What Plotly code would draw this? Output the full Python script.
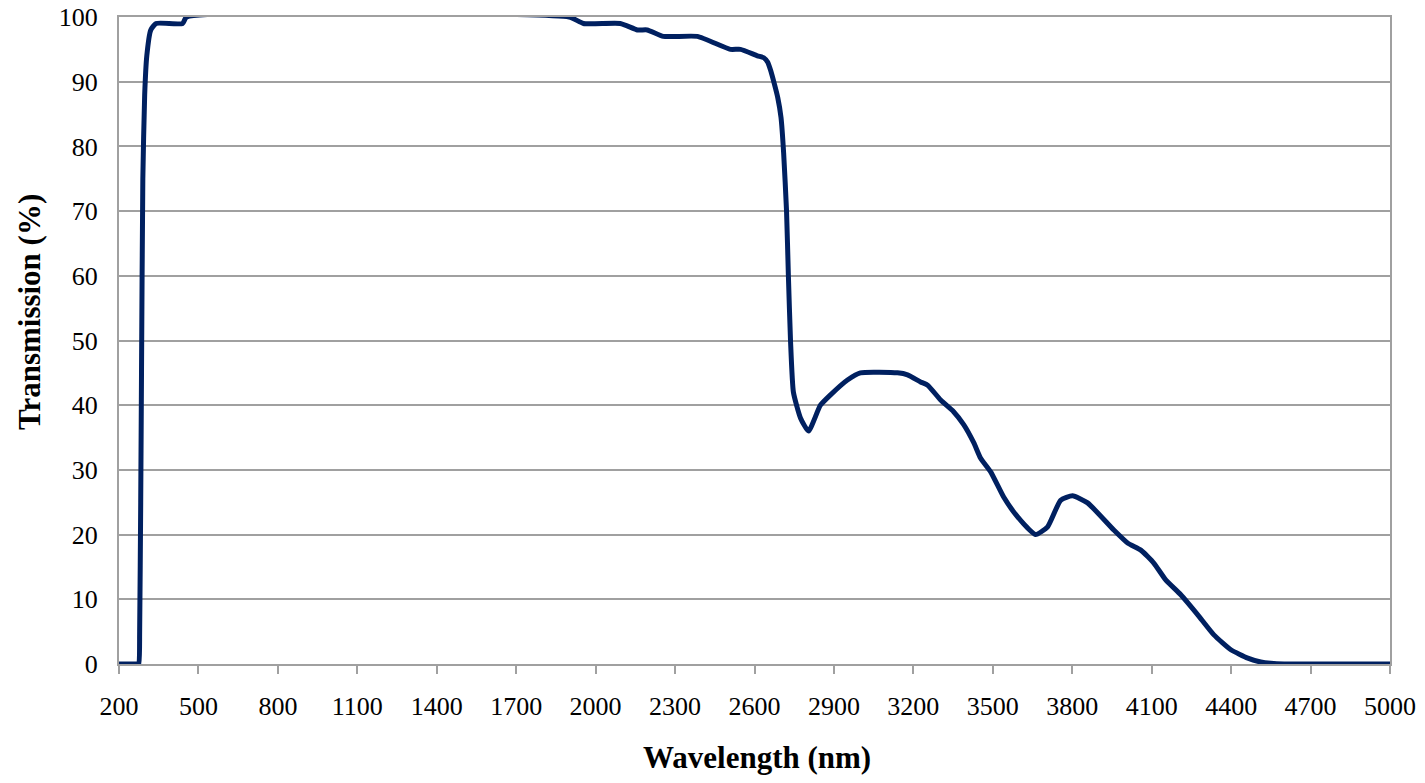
import plotly.graph_objects as go

wavelength = [200, 270, 275, 278, 282, 285, 290, 297, 305, 320, 340, 440, 455, 1900,
              1954, 2093, 2158, 2195, 2256, 2384, 2509, 2547, 2611, 2635, 2650, 2662, 2674, 2688, 2700,
              2710, 2721, 2728, 2736, 2747, 2774, 2804, 2849, 2887, 2951, 3000, 3140,
              3178, 3227, 3254, 3303, 3352, 3390, 3428, 3454, 3492, 3541, 3579, 3632,
              3662, 3707, 3756, 3801, 3858, 3957, 4009, 4059, 4108, 4153, 4210, 4274,
              4335, 4399, 4463, 4512, 4550, 4600, 5000]
transmission = [0, 0, 0, 5, 25, 45, 75, 88, 94, 98, 99, 99, 100, 100,
                99, 99, 98, 98, 97, 97, 95, 95, 94, 93.7, 93, 91.6, 89.8, 87.5, 84.5,
                79, 70, 60, 50, 42, 38, 36, 40, 41.6, 43.9, 45, 45,
                44.7, 43.6, 43.1, 40.8, 39, 37, 34.2, 31.8, 29.7, 25.8, 23.5, 21,
                20, 21.2, 25.3, 26, 24.9, 20.7, 18.7, 17.6, 15.6, 13, 10.7, 7.6,
                4.5, 2.2, 0.9, 0.3, 0.1, 0, 0]

x_ticks = list(range(200, 5001, 300))
y_ticks = list(range(0, 101, 10))

fig = go.Figure()
fig.add_trace(go.Scatter(
    x=wavelength, y=transmission, mode="lines",
    line=dict(color="#002060", width=5, shape="spline", smoothing=0.5),
    showlegend=False, hoverinfo="x+y", cliponaxis=False))

font = dict(family="Liberation Serif, Times New Roman, serif", color="black")

fig.update_layout(
    width=1409, height=767,
    margin=dict(l=111, r=27, t=9, b=111),
    paper_bgcolor="white", plot_bgcolor="white",
    font=dict(**font, size=26),
    xaxis=dict(
        range=[200, 5000], tickvals=x_ticks, ticktext=[str(v) for v in x_ticks],
        showgrid=False, showline=True, linecolor="#a0a0a0", linewidth=2,
        mirror=True, ticks="outside", ticklen=8, tickwidth=1.5, tickcolor="#a0a0a0",
        tickfont=dict(**font, size=26), ticklabelstandoff=10,
        zeroline=False, automargin=False),
    yaxis=dict(
        range=[0, 100.0001], tickvals=y_ticks, ticktext=[str(v) for v in y_ticks],
        showgrid=True, gridcolor="#a0a0a0", gridwidth=1.5,
        showline=True, linecolor="#a0a0a0", linewidth=2, mirror=True,
        ticks="", tickfont=dict(**font, size=26), ticklabelstandoff=14,
        ticklabeloverflow="allow",
        zeroline=False, automargin=False),
    annotations=[
        dict(text="<b>Transmission (%)</b>", textangle=-90,
             xref="paper", yref="paper", x=0, y=(664 - 312) / 647,
             xanchor="center", yanchor="middle", xshift=-90, showarrow=False,
             font=dict(**font, size=31)),
        dict(text="<b>Wavelength (nm)</b>",
             xref="paper", yref="paper", x=(757 - 119) / 1271, y=0,
             xanchor="center", yanchor="middle", yshift=-93, showarrow=False,
             font=dict(**font, size=31)),
    ],
)

fig.write_html("out.html")
